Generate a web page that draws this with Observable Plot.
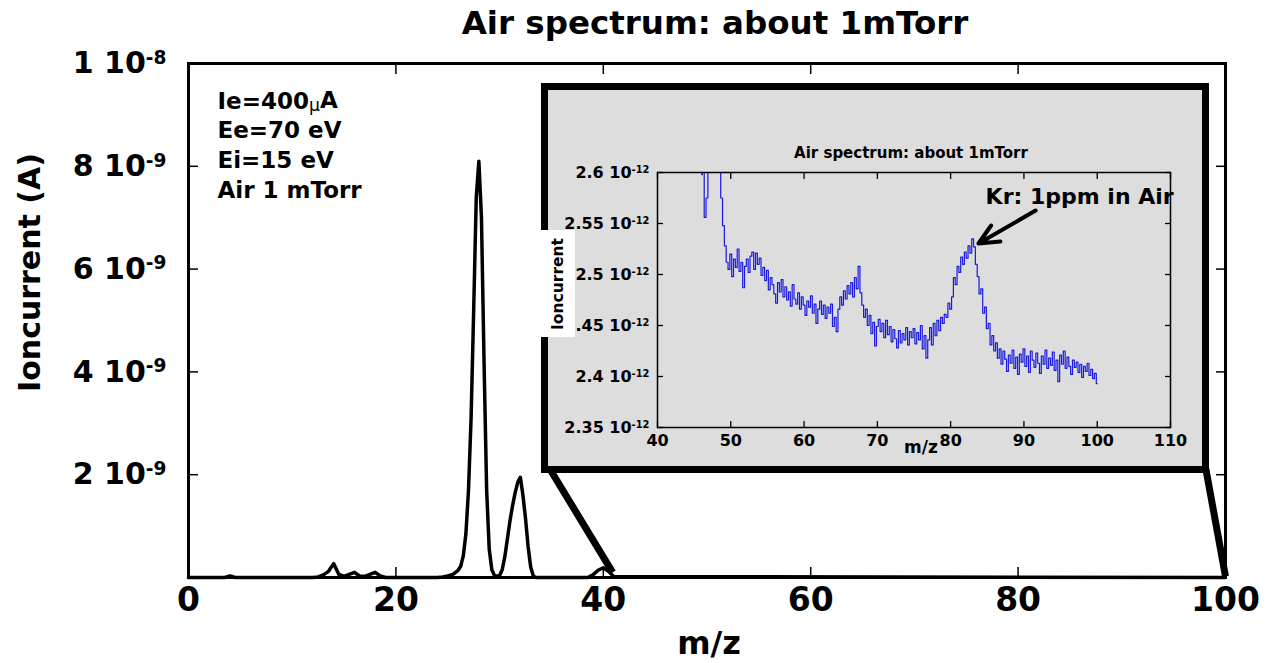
<!DOCTYPE html>
<html><head><meta charset="utf-8">
<script src="https://cdn.jsdelivr.net/npm/d3@7"></script>
<script src="https://cdn.jsdelivr.net/npm/@observablehq/plot@0.6"></script>
<style>
body{margin:0;background:#fff;font-family:"DejaVu Sans",sans-serif;}
#wrap{position:relative;width:1272px;height:663px;overflow:hidden;background:#fff}
#title{position:absolute;left:715px;top:7px;transform:translateX(-50%);white-space:nowrap;font-weight:bold;font-size:32.5px;line-height:32px;color:#000}
#main{position:absolute;left:0;top:40px}
#insetBox{position:absolute;left:541px;top:83px;width:668px;height:390px;border:7px solid #000;box-sizing:border-box;background:#dcdddc}
#inset{position:absolute;left:541px;top:83px}
#insetYLabel{position:absolute;left:541px;top:230px;width:34px;height:107px;background:#fff;display:flex;align-items:center;justify-content:center}
#insetYLabel span{writing-mode:vertical-rl;transform:rotate(180deg);font-weight:bold;font-size:15.5px;color:#000}
</style></head><body>
<div id="wrap">
  <div id="title">Air spectrum: about 1mTorr</div>
  <div id="main"></div>
  <div id="insetBox"></div>
  <div id="inset"></div>
  <div id="insetYLabel"><span>Ioncurrent</span></div>
</div>
<script>
// ---- main spectrum (ion current in units of 1e-9 A) ----
const mainMz = [0, 3.5, 4, 4.5, 12, 12.5, 13, 13.5, 14, 14.5, 15, 15.5, 16, 16.5, 17, 17.5, 18, 18.5, 19,
  24, 24.5, 25, 25.5, 26, 26.25, 26.5, 26.75, 27, 27.25, 27.5, 27.75, 28, 28.25, 28.5, 28.75, 29, 29.25, 29.5, 29.75,
  30, 30.25, 30.5, 30.75, 31, 31.25, 31.5, 31.75, 32, 32.25, 32.5, 32.75, 33, 33.25, 33.5,
  38.5, 39, 39.5, 40, 40.5, 41, 100];
const mainCurrent = [0, 0, 0.03, 0, 0, 0.01, 0.05, 0.12, 0.27, 0.06, 0.02, 0.06, 0.1, 0.03, 0.02, 0.06, 0.1, 0.03, 0,
  0, 0.01, 0.03, 0.06, 0.14, 0.22, 0.42, 0.85, 1.7, 3.1, 5.2, 7.4, 8.1, 7.0, 4.2, 1.7, 0.55, 0.15, 0.04, 0.02,
  0.04, 0.15, 0.4, 0.75, 1.1, 1.4, 1.65, 1.85, 1.95, 1.6, 1.15, 0.6, 0.2, 0.03, 0,
  0, 0.05, 0.14, 0.19, 0.12, 0.02, 0];
const mainXTicks = [0, 20, 40, 60, 80, 100];
const mainYTicks = [2, 4, 6, 8, 10];
const mainYTickLabels = ["2 10^-9", "4 10^-9", "6 10^-9", "8 10^-9", "1 10^-8"];
const conditions = ["Ie=400μA", "Ee=70 eV", "Ei=15 eV", "Air 1 mTorr"];
// zoom guide lines from the inset box to the main axis (data coords)
const zoomX1 = [34.7, 98.1], zoomY1 = [2.16, 2.12], zoomX2 = [40.9, 100], zoomY2 = [0.1, 0.02];

// ---- inset: m/z 46..100, ion current in units of 1e-12 A, step 0.25 ----
const insetStart = 46.0, insetStep = 0.25;
const insetCurrent = [
  2.598, 2.612, 2.556, 2.575, 2.640, 2.700,
  2.740, 2.760, 2.720, 2.690, 2.640, 2.575, 2.548, 2.528,
  2.512, 2.505, 2.520, 2.498, 2.515, 2.507, 2.525, 2.503,
  2.512, 2.487, 2.508, 2.515, 2.502, 2.518, 2.522, 2.505,
  2.521, 2.510, 2.516, 2.499, 2.507, 2.494, 2.504, 2.485,
  2.497, 2.490, 2.481, 2.472, 2.492, 2.483, 2.495, 2.478,
  2.488, 2.475, 2.483, 2.469, 2.490, 2.476, 2.471, 2.482,
  2.466, 2.478, 2.470, 2.460, 2.474, 2.468, 2.479, 2.462,
  2.471, 2.452, 2.466, 2.474, 2.461, 2.470, 2.457, 2.468,
  2.462, 2.471, 2.449, 2.458, 2.444, 2.466, 2.478, 2.470,
  2.484, 2.476, 2.489, 2.481, 2.492, 2.478, 2.497, 2.486,
  2.508, 2.482, 2.470, 2.458, 2.466, 2.450, 2.460, 2.442,
  2.453, 2.430, 2.449, 2.456, 2.444, 2.452, 2.438, 2.455,
  2.441, 2.449, 2.434, 2.446, 2.437, 2.428, 2.445, 2.433,
  2.442, 2.436, 2.448, 2.431, 2.444, 2.438, 2.447, 2.432,
  2.443, 2.436, 2.450, 2.427, 2.440, 2.418, 2.436, 2.448,
  2.431, 2.452, 2.440, 2.455, 2.445, 2.458, 2.452, 2.461,
  2.458, 2.472, 2.466, 2.478, 2.497, 2.490, 2.508, 2.502,
  2.517, 2.510, 2.522, 2.516, 2.528, 2.521, 2.535, 2.527,
  2.510, 2.498, 2.481, 2.486, 2.462, 2.468, 2.447, 2.452,
  2.431, 2.440, 2.425, 2.433, 2.418, 2.427, 2.412, 2.425,
  2.417, 2.405, 2.421, 2.413, 2.426, 2.408, 2.419, 2.402,
  2.422, 2.414, 2.427, 2.410, 2.420, 2.404, 2.425, 2.416,
  2.409, 2.423, 2.413, 2.403, 2.420, 2.412, 2.426, 2.408,
  2.418, 2.411, 2.424, 2.406, 2.416, 2.395, 2.421, 2.412,
  2.425, 2.408, 2.419, 2.410, 2.402, 2.416, 2.409, 2.414,
  2.404, 2.412, 2.399, 2.410, 2.405, 2.413, 2.401, 2.407,
  2.398, 2.403, 2.393];
const insetXTicks = [40, 50, 60, 70, 80, 90, 100, 110];
const insetYTicks = [2.35, 2.4, 2.45, 2.5, 2.55, 2.6];
const insetYTickLabels = ["2.35 10^-12", "2.4 10^-12", "2.45 10^-12", "2.5 10^-12", "2.55 10^-12", "2.6 10^-12"];
const krLabel = "Kr: 1ppm in Air";
const krLabelX = 97.6, krLabelY = 2.5765;
const krArrowX1 = 91.6, krArrowY1 = 2.5627, krArrowX2 = 83.8, krArrowY2 = 2.5304;

const FONT = "DejaVu Sans";

const mainData = mainMz.map((m, i) => ({mz: m, cur: mainCurrent[i]}));
const zoomLinks = zoomX1.map((x, i) => ({x1: x, y1: zoomY1[i], x2: zoomX2[i], y2: zoomY2[i]}));
const insetData = insetCurrent.map((v, i) => ({mz: insetStart + i * insetStep, cur: v}));

function supify(root) {
  root.querySelectorAll("text").forEach(t => {
    if (t.querySelector("tspan")) return;
    const s = t.textContent;
    if (!s.includes("^")) return;
    const [b, e] = s.split("^");
    t.textContent = b;
    const ts = document.createElementNS("http://www.w3.org/2000/svg", "tspan");
    ts.setAttribute("dy", "-0.5em");
    ts.setAttribute("font-size", "0.62em");
    ts.textContent = e;
    t.appendChild(ts);
  });
}

const main = Plot.plot({
  width: 1272, height: 623,
  marginTop: 23, marginBottom: 86, marginLeft: 188, marginRight: 47,
  style: {fontFamily: FONT, background: "transparent"},
  x: {domain: [0, 100]},
  y: {domain: [0, 10]},
  marks: [
    Plot.link(zoomLinks, {x1: "x1", y1: "y1", x2: "x2", y2: "y2", stroke: "#000", strokeWidth: 7}),
    Plot.line(mainData, {x: "mz", y: "cur", stroke: "#000", strokeWidth: 3.5}),
    Plot.frame({stroke: "#000", strokeWidth: 3}),
    Plot.axisX(mainXTicks, {anchor: "bottom", tickSize: -10, tickPadding: 20, strokeWidth: 1.5, tickFormat: d => String(d), fontSize: 33, fontWeight: "bold", label: null}),
    Plot.axisX(mainXTicks, {anchor: "top", tickSize: -10, strokeWidth: 1.5, tickFormat: () => "", label: null}),
    Plot.axisY(mainYTicks, {anchor: "left", tickSize: -10, tickPadding: 32, strokeWidth: 1.5, tickFormat: d => mainYTickLabels[mainYTicks.indexOf(d)], fontSize: 30, fontWeight: "bold", label: null}),
    Plot.axisY(mainYTicks, {anchor: "right", tickSize: -10, strokeWidth: 1.5, tickFormat: () => "", label: null}),
    Plot.text(["Ioncurrent (A)"], {frameAnchor: "left", textAnchor: "middle", lineAnchor: "middle", rotate: -90, dx: -158, dy: -48, fontSize: 30, fontWeight: "bold", fill: "#000"}),
    Plot.text(["m/z"], {frameAnchor: "bottom", lineAnchor: "middle", dx: 2, dy: 66, fontSize: 32, fontWeight: "bold", fill: "#000"}),
    Plot.text([conditions.join("\n")], {frameAnchor: "top-left", textAnchor: "start", lineAnchor: "top", dx: 29, dy: 24, fontSize: 23, lineHeight: 1.3, fontWeight: "bold", fill: "#000"})
  ]
});
supify(main);
main.querySelectorAll("tspan, text").forEach(t => {
  if (t.childNodes.length === 1 && t.firstChild.nodeType === 3 && t.textContent.includes("μ")) {
    const [a, b] = t.textContent.split("μ");
    t.textContent = a;
    const mu = document.createElementNS("http://www.w3.org/2000/svg", "tspan");
    mu.setAttribute("font-size", "0.75em");
    mu.setAttribute("font-weight", "normal");
    mu.setAttribute("dy", "0.12em");
    mu.textContent = "μ";
    const rest = document.createElementNS("http://www.w3.org/2000/svg", "tspan");
    rest.setAttribute("dy", "-0.12em");
    rest.textContent = b;
    t.appendChild(mu); t.appendChild(rest);
  }
});
document.getElementById("main").appendChild(main);

const inset = Plot.plot({
  width: 668, height: 390,
  marginTop: 89, marginBottom: 46, marginLeft: 116, marginRight: 39,
  style: {fontFamily: FONT, background: "transparent"},
  x: {domain: [40, 110]},
  y: {domain: [2.35, 2.6]},
  marks: [
    Plot.line(insetData, {x: "mz", y: "cur", stroke: "#1a1ae0", strokeWidth: 1.2, curve: "step", clip: true}),
    Plot.frame({stroke: "#000", strokeWidth: 1.5}),
    Plot.axisX(insetXTicks, {anchor: "bottom", tickSize: -6, tickPadding: 13, strokeWidth: 1.3, tickFormat: d => String(d), fontSize: 16, fontWeight: "bold", label: null}),
    Plot.axisX(insetXTicks, {anchor: "top", tickSize: -6, strokeWidth: 1.3, tickFormat: () => "", label: null}),
    Plot.axisY(insetYTicks, {anchor: "left", tickSize: -6, tickPadding: 14, strokeWidth: 1.3, tickFormat: d => insetYTickLabels[insetYTicks.indexOf(d)], fontSize: 16, fontWeight: "bold", label: null}),
    Plot.axisY(insetYTicks, {anchor: "right", tickSize: -6, strokeWidth: 1.3, tickFormat: () => "", label: null}),
    Plot.text(["Air spectrum: about 1mTorr"], {frameAnchor: "top", lineAnchor: "middle", dx: -3, dy: -19, fontSize: 15, fontWeight: "bold", fill: "#000"}),
    Plot.text(["m/z"], {frameAnchor: "bottom", lineAnchor: "middle", dx: 7, dy: 20, fontSize: 17, fontWeight: "bold", fill: "#000"}),
    Plot.text([krLabel], {x: () => krLabelX, y: () => krLabelY, fontSize: 22, fontWeight: "bold", fill: "#000"}),
    Plot.arrow([0], {x1: () => krArrowX1, y1: () => krArrowY1, x2: () => krArrowX2, y2: () => krArrowY2, stroke: "#000", strokeWidth: 4, headLength: 22, headAngle: 50})
  ]
});
supify(inset);
document.getElementById("inset").appendChild(inset);
</script>
</body></html>
